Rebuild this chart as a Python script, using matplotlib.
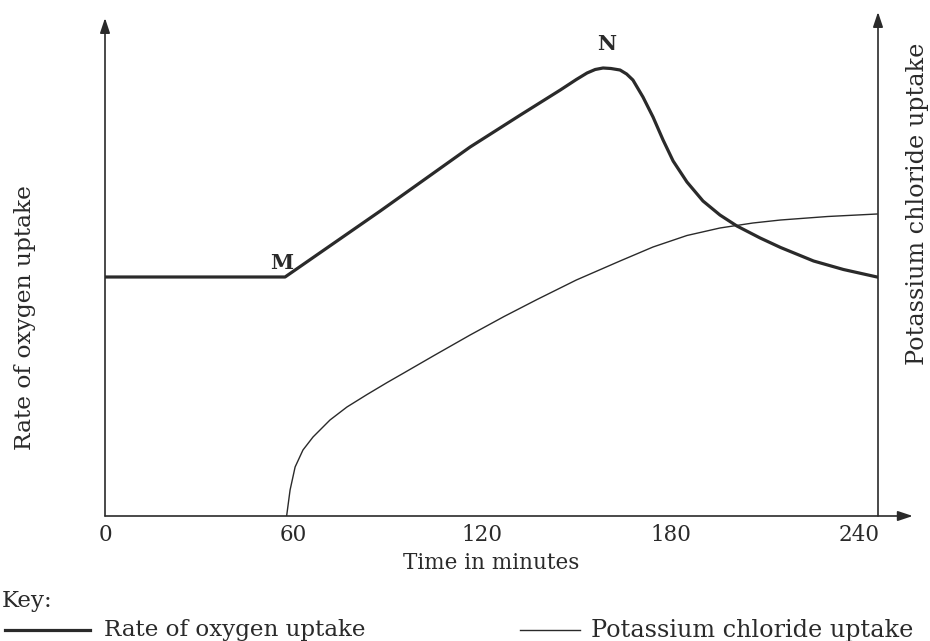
import matplotlib
matplotlib.use("Agg")
import matplotlib.pyplot as plt
from matplotlib.lines import Line2D

# values (time in minutes, arbitrary uptake units 0-100)
time_ticks = [0, 60, 120, 180, 240]

oxygen_t = [0, 57.3, 87.6, 116.2, 132.2, 144.9, 150.0, 153.4, 156.0, 158.5,
            161.0, 163.9, 166.0, 168.0, 171.2, 174.4, 177.6, 180.8, 185.2,
            190.3, 195.7, 201.1, 208.5, 215.0, 225.5, 235.0, 245.7]
oxygen_rate = [47.8, 47.8, 61.0, 73.8, 80.2, 85.2, 87.3, 88.6, 89.3, 89.6,
               89.5, 89.2, 88.4, 87.2, 83.8, 79.8, 75.2, 71.0, 66.8,
               63.0, 60.2, 58.0, 55.6, 53.7, 51.0, 49.3, 47.8]

kcl_t = [57.8, 58.9, 60.5, 63.0, 66.2, 71.6, 77.0, 83.4, 89.8, 94.8,
         105.0, 116.2, 127.0, 137.5, 150.0, 163.9, 174.4, 185.2, 195.7,
         206.2, 215.0, 230.0, 245.7]
kcl_uptake = [0, 5.2, 9.8, 13.2, 15.8, 19.2, 21.8, 24.3, 26.7, 28.5,
              32.2, 36.2, 39.9, 43.3, 47.2, 51.0, 53.8, 56.1, 57.6,
              58.6, 59.2, 59.9, 60.4]

ink = "#2a2a2a"
plt.rcParams["font.family"] = ["DejaVu Serif"]

fig = plt.figure(figsize=(9.30, 6.41), dpi=100)
ax = fig.add_axes([105 / 930, 1 - 516 / 641, (878 - 105) / 930, (516 - 16) / 641])
ax.set_xlim(0, 246)
ax.set_ylim(0, 100)

ax.plot(oxygen_t, oxygen_rate, color=ink, lw=2.3, solid_joinstyle="round")
ax.plot(kcl_t, kcl_uptake, color=ink, lw=1.0, solid_joinstyle="round")

# axes drawn as arrows
for s in ax.spines.values():
    s.set_visible(False)
arrow = dict(arrowstyle="-|>,head_length=0.9,head_width=0.3", color=ink, lw=1.2,
             shrinkA=0, shrinkB=0)
ax.annotate("", xy=(0, 0.996), xytext=(0, 0), xycoords="axes fraction", arrowprops=arrow)
ax.annotate("", xy=(1, 1.008), xytext=(1, 0), xycoords="axes fraction", arrowprops=arrow)
ax.annotate("", xy=(807 / 773 + 0.001, 0), xytext=(0, 0), xycoords="axes fraction",
            arrowprops=arrow)

ax.set_xticks(time_ticks)
ax.set_xticklabels([str(t) for t in time_ticks])
ax.tick_params(axis="x", length=0, pad=6, labelsize=15.5, colors=ink)
ax.set_yticks([])

ax.set_xlabel("Time in minutes", fontsize=15.5, color=ink, labelpad=4)
fig.text(25 / 930, 1 - 318 / 641, "Rate of oxygen uptake", rotation=90,
         ha="center", va="center", fontsize=16.8, color=ink)
fig.text(917 / 930, 1 - 204 / 641, "Potassium chloride uptake", rotation=90,
         ha="center", va="center", fontsize=17.2, color=ink)

# point labels
ax.text(56.3, 50.6, "M", ha="center", va="center", fontsize=15,
        fontweight="bold", color=ink)
ax.text(159.8, 94.4, "N", ha="center", va="center", fontsize=15,
        fontweight="bold", color=ink)

# key
fig.text(2 / 930, 1 - 601 / 641, "Key:", ha="left", va="center", fontsize=16.5, color=ink)
fig.add_artist(Line2D([5 / 930, 90 / 930], [1 - 630 / 641, 1 - 630 / 641],
                      color=ink, lw=2.3, transform=fig.transFigure))
fig.text(104 / 930, 1 - 630 / 641, "Rate of oxygen uptake", ha="left", va="center",
         fontsize=16.6, color=ink)
fig.add_artist(Line2D([520 / 930, 580 / 930], [1 - 630 / 641, 1 - 630 / 641],
                      color=ink, lw=1.0, transform=fig.transFigure))
fig.text(591 / 930, 1 - 630 / 641, "Potassium chloride uptake", ha="left", va="center",
         fontsize=17.2, color=ink)

fig.savefig("out.png", dpi=100, facecolor="white")
